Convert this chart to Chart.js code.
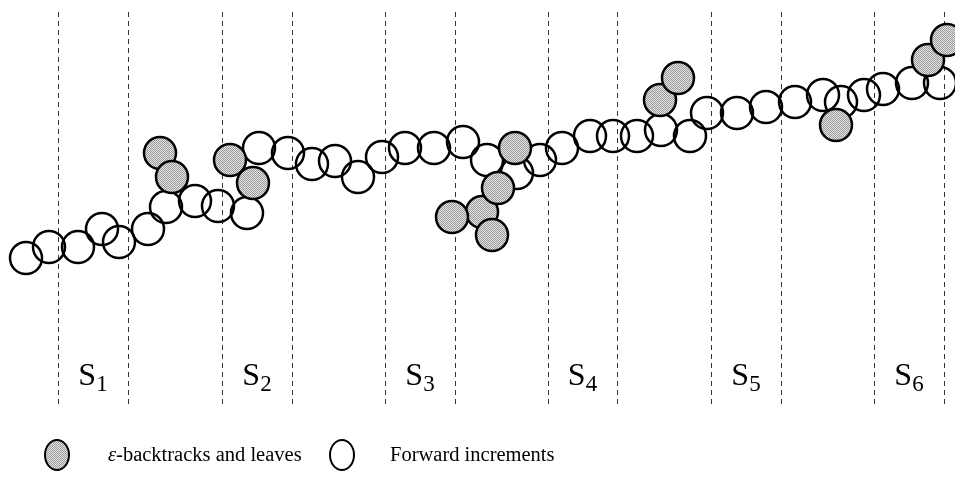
<!DOCTYPE html>
<html>
<head>
<meta charset="utf-8">
<script src="https://cdn.jsdelivr.net/npm/chart.js@4.4.1/dist/chart.umd.min.js"></script>
<style>
    html, body { margin: 0; padding: 0; background: #fff; }
    #wrap { position: relative; width: 955px; height: 495px; }
    #chart { position: absolute; left: 0; top: 0; }
    .key { position: absolute; box-sizing: border-box; border: 2.5px solid #000; border-radius: 50%; width: 26px; height: 32px; }
    .gray { background: repeating-conic-gradient(#9a9a9a 0 25%, #e4e4e4 0 50%) 0 0 / 2px 2px; }
    .txt { position: absolute; font-family: "Liberation Serif", serif; font-size: 20.5px; color: #000; white-space: nowrap; }
</style>
</head>
<body>
<div id="wrap">
    <canvas id="chart" width="955" height="495"></canvas>
    <div class="key gray" style="left:44px; top:439px;"></div>
    <div class="txt" style="left:108px; top:443px;"><i>ε</i>-backtracks and leaves</div>
    <div class="key" style="left:329px; top:439px;"></div>
    <div class="txt" style="left:390px; top:443px;">Forward increments</div>
</div>
<script>
// forward increments (open circles)
var fwdX = [26, 49, 78, 102, 119, 148, 166, 195, 218, 247, 259, 288, 312, 335, 358, 382, 405, 434, 463, 487,
            517, 540, 562, 590, 613, 637, 661, 690, 707, 737, 766, 795, 823, 841, 864, 883, 912, 940];
var fwdY = [258, 247, 247, 229, 242, 229, 207, 201, 206, 213, 148, 153, 164, 161, 177, 157, 148, 148, 142, 160,
            173, 160, 148, 136, 136, 136, 130, 136, 113, 113, 107, 102, 95, 102, 95, 89, 83, 83];

// epsilon-backtracks and leaves (gray circles)
var backX = [160, 172, 230, 253, 482, 452, 492, 498, 515, 660, 678, 836, 928, 947];
var backY = [153, 177, 160, 183, 212, 217, 235, 188, 148, 100, 78, 125, 60, 40];

// segment boundaries and labels
var bounds = [58, 128, 222, 292, 385, 455, 548, 617, 711, 781, 874, 944];
var boundTop = 12;
var boundBottom = 407;
var segNames = ["1", "2", "3", "4", "5", "6"];
var segY = 385;

function toPoints(xs, ys) {
    var pts = [];
    for (var i = 0; i < xs.length; i++) {
        pts.push({x: xs[i], y: ys[i]});
    }
    return pts;
}

function grayPattern() {
    var c = document.createElement("canvas");
    c.width = 2;
    c.height = 2;
    var g = c.getContext("2d");
    g.fillStyle = "#e4e4e4";
    g.fillRect(0, 0, 2, 2);
    g.fillStyle = "#9a9a9a";
    g.fillRect(0, 0, 1, 1);
    g.fillRect(1, 1, 1, 1);
    return g.createPattern(c, "repeat");
}

var datasets = [];
bounds.forEach(function(bx) {
    datasets.push({
        type: "line",
        data: [{x: bx + 0.5, y: boundTop}, {x: bx + 0.5, y: boundBottom}],
        borderColor: "#333",
        borderWidth: 1,
        borderDash: [5, 4],
        pointRadius: 0,
        order: 3
    });
});
datasets.push({
    label: "Forward increments",
    data: toPoints(fwdX, fwdY),
    pointRadius: 16,
    pointBorderWidth: 2.5,
    pointBorderColor: "#000",
    pointBackgroundColor: "rgba(0,0,0,0)",
    showLine: false,
    order: 2
});
datasets.push({
    label: "backtracks",
    data: toPoints(backX, backY),
    pointRadius: 16,
    pointBorderWidth: 2.5,
    pointBorderColor: "#000",
    pointBackgroundColor: grayPattern(),
    showLine: false,
    order: 1
});

var segLabels = {
    id: "segLabels",
    afterDatasetsDraw: function(chart) {
        var ctx = chart.ctx;
        var xs = chart.scales.x;
        var ys = chart.scales.y;
        ctx.save();
        ctx.fillStyle = "#000";
        ctx.textBaseline = "alphabetic";
        for (var i = 0; i < segNames.length; i++) {
            var mid = (bounds[2 * i] + bounds[2 * i + 1]) / 2;
            var px = xs.getPixelForValue(mid);
            var py = ys.getPixelForValue(segY);
            ctx.font = "32px 'Liberation Serif'";
            var w1 = ctx.measureText("S").width;
            ctx.font = "23px 'Liberation Serif'";
            var w2 = ctx.measureText(segNames[i]).width;
            var left = px - (w1 + w2) / 2;
            ctx.font = "32px 'Liberation Serif'";
            ctx.fillText("S", left, py);
            ctx.font = "23px 'Liberation Serif'";
            ctx.fillText(segNames[i], left + w1, py + 6);
        }
        ctx.restore();
    }
};

new Chart(document.getElementById("chart").getContext("2d"), {
    type: "scatter",
    data: { datasets: datasets },
    options: {
        responsive: false,
        animation: false,
        clip: false,
        layout: { padding: 0, autoPadding: false },
        plugins: {
            legend: { display: false },
            tooltip: { enabled: false }
        },
        scales: {
            x: { type: "linear", min: 0, max: 955, display: false },
            y: { type: "linear", min: 0, max: 495, reverse: true, display: false }
        }
    },
    plugins: [segLabels]
});
</script>
</body>
</html>
